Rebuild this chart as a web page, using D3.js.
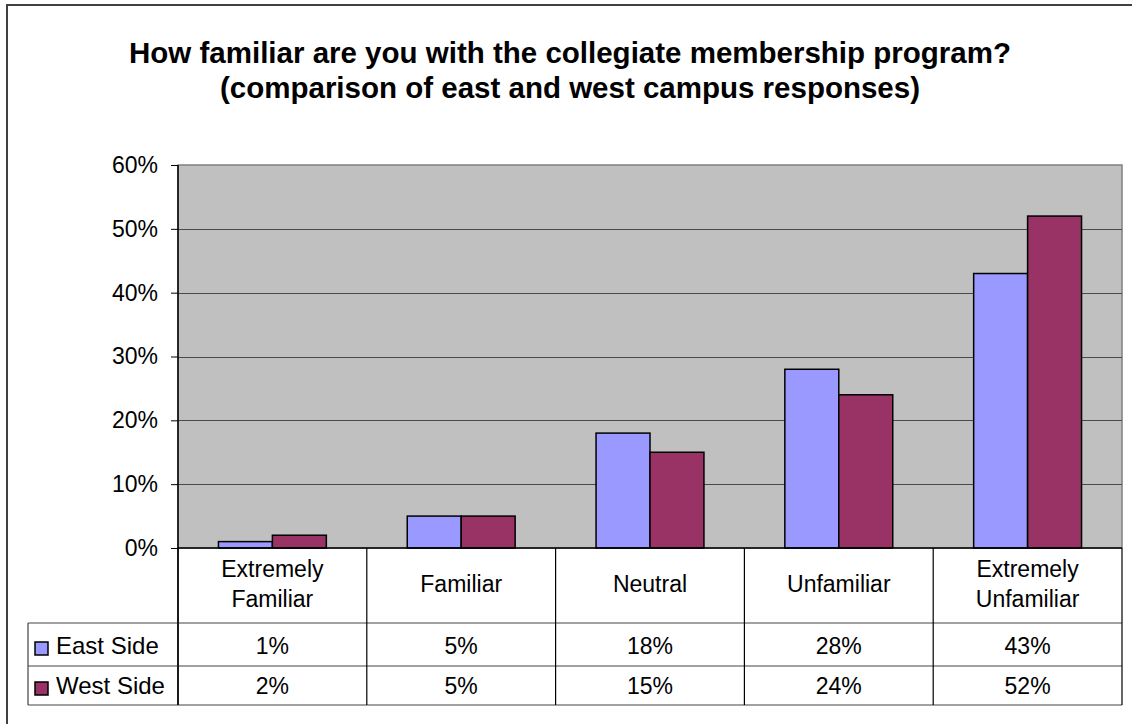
<!DOCTYPE html>
<html>
<head>
<meta charset="utf-8">
<script src="https://cdn.jsdelivr.net/npm/d3@7"></script>
<style>
  body { margin: 0; background: #fff; }
  svg { display: block; font-family: "Liberation Sans", Arial, sans-serif; }
</style>
</head>
<body>
<div id="chart"></div>
<script>
const categories = [
  ["Extremely", "Familiar"],
  ["Familiar"],
  ["Neutral"],
  ["Unfamiliar"],
  ["Extremely", "Unfamiliar"]
];
const seriesNames = ["East Side", "West Side"];
const eastValues = [0.01, 0.05, 0.18, 0.28, 0.43];
const westValues = [0.02, 0.05, 0.15, 0.24, 0.52];
const colors = ["#9999ff", "#993366"];
const yTicks = [0, 0.1, 0.2, 0.3, 0.4, 0.5, 0.6];
const titleLines = [
  "How familiar are you with the collegiate membership program?",
  "(comparison of east and west campus responses)"
];

const width = 1132, height = 724;
const plot = { left: 178, right: 1122, top: 165, bottom: 548 };
const table = { left: 28, header: 623, row1: 666, row2: 705 };

const svg = d3.select("#chart").append("svg")
  .attr("width", width).attr("height", height);

// outer chart border
svg.append("rect")
  .attr("x", 7).attr("y", 5)
  .attr("width", width + 20).attr("height", height + 20)
  .attr("fill", "#fff").attr("stroke", "#404040").attr("stroke-width", 2);

// title
svg.append("g").selectAll("text").data(titleLines).enter().append("text")
  .attr("x", 570).attr("y", (d, i) => 63 + i * 34.5)
  .attr("text-anchor", "middle")
  .style("font-size", "29.5px").style("font-weight", "bold")
  .text(d => d);

const x = d3.scaleBand()
  .domain(d3.range(categories.length))
  .range([plot.left, plot.right]);
const x1 = d3.scaleBand()
  .domain(seriesNames)
  .range([0, x.bandwidth()])
  .paddingOuter(0.75);
const y = d3.scaleLinear().domain([0, 0.6]).range([plot.bottom, plot.top]);

// plot background
svg.append("rect")
  .attr("x", plot.left).attr("y", plot.top)
  .attr("width", plot.right - plot.left).attr("height", plot.bottom - plot.top)
  .attr("fill", "#c0c0c0").attr("stroke", "#808080").attr("stroke-width", 1.5);

// gridlines
svg.append("g").selectAll("line").data(yTicks.slice(1, -1)).enter().append("line")
  .attr("x1", plot.left).attr("x2", plot.right)
  .attr("y1", d => Math.round(y(d)) + 0.5).attr("y2", d => Math.round(y(d)) + 0.5)
  .attr("stroke", "#4a4a4a").attr("stroke-width", 1);

// bars
const data = categories.map((c, i) => [eastValues[i], westValues[i]]);
const groups = svg.append("g").selectAll("g").data(data).enter().append("g")
  .attr("transform", (d, i) => `translate(${x(i)},0)`);
groups.selectAll("rect").data(d => d.map((v, j) => ({ v, s: seriesNames[j], j })))
  .enter().append("rect")
  .attr("x", d => x1(d.s))
  .attr("width", x1.bandwidth())
  .attr("y", d => y(d.v))
  .attr("height", d => y(0) - y(d.v))
  .attr("fill", d => colors[d.j])
  .attr("stroke", "#000").attr("stroke-width", 1.5);

// y axis
const yAxis = d3.axisLeft(y).tickValues(yTicks).tickFormat(d3.format(".0%"))
  .tickSize(7).tickPadding(13);
const ag = svg.append("g").attr("transform", `translate(${plot.left},0)`).call(yAxis);
ag.select(".domain").remove();
ag.selectAll(".tick line").attr("stroke", "#000");
ag.selectAll(".tick text").style("font-size", "23px").attr("fill", "#000")
  .style("font-family", '"Liberation Sans", Arial, sans-serif');
svg.append("line")
  .attr("x1", plot.left).attr("x2", plot.left)
  .attr("y1", plot.top).attr("y2", table.row2)
  .attr("stroke", "#000").attr("stroke-width", 1.5);

// data table
const tg = svg.append("g");
tg.append("line").attr("x1", plot.left).attr("x2", plot.right)
  .attr("y1", plot.bottom).attr("y2", plot.bottom)
  .attr("stroke", "#000").attr("stroke-width", 1.5);
[table.header, table.row1, table.row2].forEach(yy => {
  tg.append("line").attr("x1", table.left).attr("x2", plot.right)
    .attr("y1", yy).attr("y2", yy)
    .attr("stroke", "#444").attr("stroke-width", 1.2);
});
d3.range(categories.length + 1).forEach(i => {
  const xx = i < categories.length ? x(i) : plot.right;
  tg.append("line").attr("x1", xx).attr("x2", xx)
    .attr("y1", plot.bottom).attr("y2", table.row2)
    .attr("stroke", "#000").attr("stroke-width", 1.2);
});
tg.append("line").attr("x1", table.left).attr("x2", table.left)
  .attr("y1", table.header).attr("y2", table.row2)
  .attr("stroke", "#444").attr("stroke-width", 1.2);

// category labels
categories.forEach((lines, i) => {
  const cx = x(i) + x.bandwidth() / 2;
  const base = lines.length === 1 ? 592 : 577;
  lines.forEach((t, k) => {
    tg.append("text").attr("x", cx).attr("y", base + k * 29.5)
      .attr("text-anchor", "middle").style("font-size", "23px").text(t);
  });
});

// value rows + legend keys
const rowBase = [653.5, 694];
const keyTop = [642, 682];
[eastValues, westValues].forEach((vals, j) => {
  tg.append("rect").attr("x", 35).attr("y", keyTop[j])
    .attr("width", 13).attr("height", 13)
    .attr("fill", colors[j]).attr("stroke", "#000").attr("stroke-width", 1.5);
  tg.append("text").attr("x", 56).attr("y", rowBase[j])
    .style("font-size", "24px").text(seriesNames[j]);
  vals.forEach((v, i) => {
    tg.append("text").attr("x", x(i) + x.bandwidth() / 2).attr("y", rowBase[j])
      .attr("text-anchor", "middle").style("font-size", "23px")
      .text(d3.format(".0%")(v));
  });
});
</script>
</body>
</html>
